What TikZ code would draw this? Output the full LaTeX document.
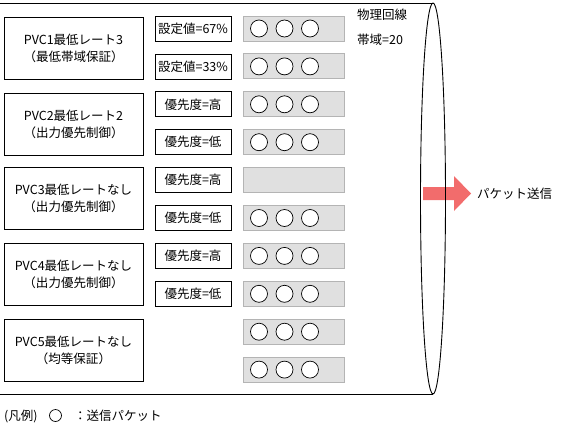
\documentclass[tikz,border=0pt]{standalone}
\usepackage{fontspec}
\setmainfont{Noto Sans CJK JP}
\definecolor{qfill}{RGB}{224,224,224}
\definecolor{qdraw}{RGB}{180,180,180}
\definecolor{arrred}{RGB}{242,108,108}
\begin{document}
\begin{tikzpicture}[x=1pt,y=-1pt,
  every node/.style={font=\fontsize{12.5}{17}\selectfont, inner sep=0pt},
  pvcbox/.style={draw, line width=0.8pt, minimum width=139pt, minimum height=62pt, align=center},
  setbox/.style={draw, line width=0.8pt, minimum width=76pt, minimum height=25pt},
  queuebox/.style={draw=qdraw, fill=qfill, line width=0.9pt, minimum width=101pt, minimum height=25pt},
  pkt/.style={circle, draw, line width=0.7pt, fill=white, minimum size=17pt},
  lbl/.style={anchor=west}]
\useasboundingbox (0,0) rectangle (572,431);
% queues
\foreach \i in {1,...,10}{
  \pgfmathsetmacro{\yy}{28.5+37.9*(\i-1)}
  \node[queuebox] (q\i) at (294,\yy) {};
}
\foreach \i in {1,2,3,4,6,7,8,9,10}{
  \node[pkt] (q\i a) at ([xshift=-35pt]q\i.center) {};
  \node[pkt] (q\i b) at ([xshift=-9.5pt]q\i.center) {};
  \node[pkt] (q\i c) at ([xshift=16pt]q\i.center) {};
}
% setting boxes
\node[setbox] (m1) at (193,28.5) {設定値=67\%};
\node[setbox] (m2) at (193,66.4) {設定値=33\%};
\node[setbox] (m3) at (193,104.3) {優先度=高};
\node[setbox] (m4) at (193,142.2) {優先度=低};
\node[setbox] (m5) at (193,180.1) {優先度=高};
\node[setbox] (m6) at (193,218) {優先度=低};
\node[setbox] (m7) at (193,255.9) {優先度=高};
\node[setbox] (m8) at (193,293.8) {優先度=低};
% PVC boxes
\node[pvcbox] (p1) at (73.5,48) {PVC1最低レート3\\（最低帯域保証）};
\node[pvcbox] (p2) at (73.5,124) {PVC2最低レート2\\（出力優先制御）};
\node[pvcbox] (p3) at (73.5,198.5) {PVC3最低レートなし\\（出力優先制御）};
\node[pvcbox] (p4) at (73.5,274.5) {PVC4最低レートなし\\（出力優先制御）};
\node[pvcbox] (p5) at (73.5,350.5) {PVC5最低レートなし\\（均等保証）};
% physical line
\node[lbl] (phys) at (357,14.5) {物理回線};
\node[lbl] (bw) at (357,39.5) {帯域=20};
% arrow
\fill[arrred] (423,187) -- (454,187) -- (454,176) -- (471,193.5) -- (454,211) -- (454,200) -- (423,200) -- cycle;
\node[lbl] (send) at (477,193.5) {パケット送信};
% cylinder
\coordinate (tl) at (0,3);
\coordinate (tr) at (433,3);
\coordinate (bl) at (0,394);
\coordinate (br) at (433,394);
\draw[line width=0.9pt] (tl) -- (tr);
\draw[line width=0.9pt] (bl) -- (br);
\draw[line width=0.9pt] (433,198.5) ellipse [x radius=12.5, y radius=195.5];
% legend
\node[lbl] (leg) at (4,416) {(凡例)};
\node[circle, draw, line width=0.7pt, minimum size=12pt] (legc) at (55.5,415.5) {};
\node[lbl] (legt) at (74,416) {：送信パケット};
\end{tikzpicture}
\end{document}
